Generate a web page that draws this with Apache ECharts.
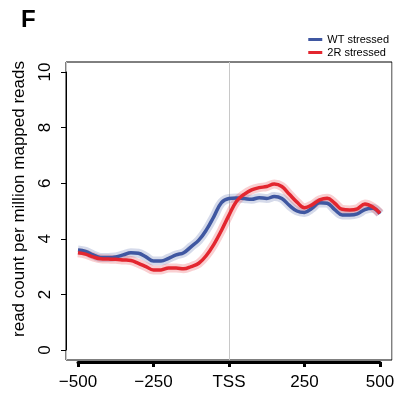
<!DOCTYPE html>
<html><head><meta charset="utf-8">
<script src="https://cdn.jsdelivr.net/npm/echarts@6/dist/echarts.min.js"></script>
<style>html,body{margin:0;padding:0;background:#fff}#c{width:400px;height:393px}</style>
</head><body><div id="c"></div>
<script>
const positions = [-500,-475,-450,-425,-400,-375,-350,-325,-300,-275,-250,-225,-200,-175,-150,-125,-100,-75,-50,-25,0,25,50,75,100,125,150,175,200,225,250,275,300,325,350,375,400,425,450,475,500];
const wtStressed = [3.6,3.55,3.42,3.33,3.33,3.35,3.42,3.5,3.48,3.35,3.2,3.2,3.3,3.42,3.5,3.72,3.95,4.32,4.8,5.3,5.45,5.47,5.45,5.42,5.48,5.45,5.52,5.45,5.2,5.0,4.95,5.1,5.3,5.28,5.05,4.86,4.86,4.9,5.05,5.1,4.9];
const r2Stressed = [3.5,3.45,3.35,3.28,3.27,3.26,3.24,3.22,3.12,3.0,2.88,2.88,2.95,2.95,2.92,3.0,3.12,3.4,3.8,4.3,4.85,5.35,5.6,5.76,5.84,5.88,5.97,5.88,5.6,5.32,5.12,5.22,5.4,5.46,5.28,5.06,5.04,5.08,5.25,5.15,4.92];
const xTickLabels = {'-500':'\u2212500','-250':'\u2212250','0':'TSS','250':'250','500':'500'};
const seriesNames = ['WT stressed','2R stressed'];
const colors = ['#3f57a1','#e3262f'];
const bands = ['rgba(63,87,161,0.22)','rgba(227,38,47,0.22)'];

const wt = positions.map((p,i)=>[p,wtStressed[i]]);
const r2 = positions.map((p,i)=>[p,r2Stressed[i]]);
const font = 'Liberation Sans, Arial, sans-serif';

const chart = echarts.init(document.getElementById('c'));
chart.setOption({
  animation:false,
  title:{text:'F',left:16,top:3,textStyle:{fontFamily:font,fontSize:24,fontWeight:'bold',color:'#000'}},
  legend:{data:seriesNames,orient:'vertical',right:6,top:29,itemWidth:14,itemHeight:3,itemGap:2,icon:'rect',
    textStyle:{fontFamily:font,fontSize:11,color:'#000'}},
  graphic:[{type:'text',x:19,y:199,rotation:Math.PI/2,
    style:{text:'read count per million mapped reads',font:'17px '+font,fill:'#000',align:'center',verticalAlign:'middle'}}],
  grid:[
    {left:66,right:8,top:62,bottom:33,show:true,borderColor:'#000',borderWidth:1},
    {left:78,right:20,top:72,bottom:43}
  ],
  xAxis:[
    {gridIndex:0,type:'value',min:-540,max:540,interval:540,axisLine:{show:false},axisTick:{show:false},axisLabel:{show:false},
      splitLine:{show:true,lineStyle:{color:'#c8c8c8',width:1}}},
    {gridIndex:1,type:'value',min:-500,max:500,interval:250,position:'bottom',offset:12,
      axisLine:{show:true,onZero:false,lineStyle:{color:'#000',width:3}},axisTick:{show:true,length:5,lineStyle:{color:'#000',width:3}},
      axisLabel:{fontFamily:font,fontSize:17,color:'#000',margin:12,formatter:v=>xTickLabels[String(v)]},splitLine:{show:false}}
  ],
  yAxis:[
    {gridIndex:0,type:'value',min:0,max:1,axisLine:{show:false},axisTick:{show:false},axisLabel:{show:false},splitLine:{show:false}},
    {gridIndex:1,type:'value',min:0,max:10,interval:2,position:'left',offset:12,
      axisLine:{show:true,onZero:false,lineStyle:{color:'#000',width:1}},axisTick:{show:true,length:5,lineStyle:{color:'#000'}},
      axisLabel:{fontFamily:font,fontSize:17,color:'#000',rotate:90,margin:12},splitLine:{show:false}}
  ],
  series:[
    {name:'wtBand',type:'line',xAxisIndex:1,yAxisIndex:1,data:wt,smooth:0.4,showSymbol:false,lineStyle:{color:bands[0],width:9},z:2},
    {name:'r2Band',type:'line',xAxisIndex:1,yAxisIndex:1,data:r2,smooth:0.4,showSymbol:false,lineStyle:{color:bands[1],width:9},z:2},
    {name:seriesNames[0],type:'line',xAxisIndex:1,yAxisIndex:1,data:wt,smooth:0.4,showSymbol:false,color:colors[0],lineStyle:{color:colors[0],width:3.5},z:3},
    {name:seriesNames[1],type:'line',xAxisIndex:1,yAxisIndex:1,data:r2,smooth:0.4,showSymbol:false,color:colors[1],lineStyle:{color:colors[1],width:3.5},z:4}
  ]
});
</script></body></html>
